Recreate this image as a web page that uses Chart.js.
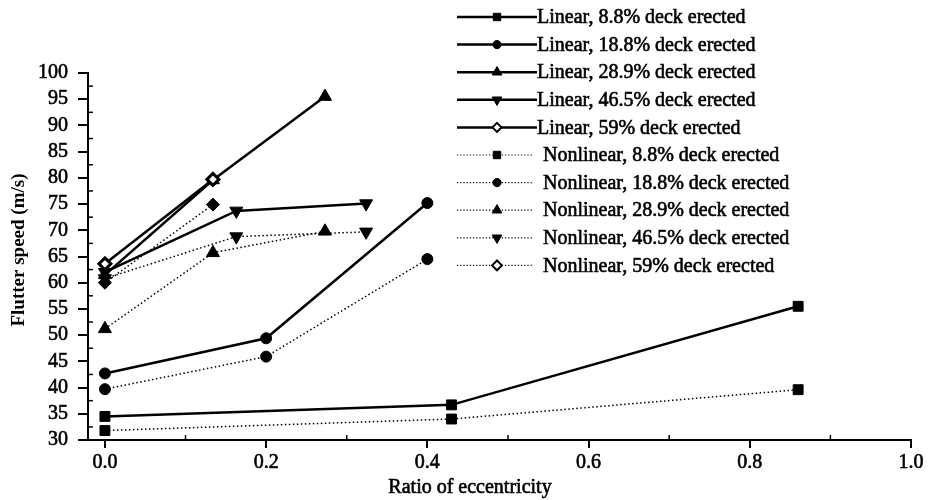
<!DOCTYPE html>
<html>
<head>
<meta charset="utf-8">
<script src="https://cdn.jsdelivr.net/npm/chart.js@4.4.0/dist/chart.umd.min.js"></script>
<style>
  html, body { margin: 0; padding: 0; background: #fff; }
  #wrap { position: relative; width: 934px; height: 500px; }
</style>
</head>
<body>
<div id="wrap"><canvas id="chart" width="934" height="500"></canvas></div>
<script>
// eccentricity ratios (x) per deck stage
const ecc8 = [0, 0.43, 0.86];
const ecc18 = [0, 0.2, 0.4];
const ecc28 = [0, 0.134, 0.273];
const ecc46 = [0, 0.163, 0.324];
const ecc59 = [0, 0.134];

// flutter speeds (m/s)
const linear8 = [34.5, 36.7, 55.5];
const nonlin8 = [31.8, 34.0, 39.6];
const linear18 = [42.7, 49.4, 75.2];
const nonlin18 = [39.7, 45.9, 64.5];
const linear28 = [61.5, 79.6, 95.5];
const nonlin28 = [51.2, 65.7, 69.8];
const linear46 = [62.0, 73.7, 75.1];
const nonlin46 = [60.8, 68.8, 69.7];
const linear59 = [63.6, 79.7];
const nonlin59 = [60.0, 74.9];

const xTicks = [0, 0.2, 0.4, 0.6, 0.8, 1.0];
const yTicks = [30, 35, 40, 45, 50, 55, 60, 65, 70, 75, 80, 85, 90, 95, 100];

const SERIF = '"Liberation Serif", "DejaVu Serif", serif';

function pts(xs, ys) {
  return xs.map((x, i) => ({ x: x, y: ys[i] }));
}

function series(label, xs, ys, marker, nonlinear) {
  return {
    label: label,
    data: pts(xs, ys),
    nonlinear: nonlinear,
    legendOpen: marker.legendOpen || marker.open,
    order: marker.open ? -1 : 0,
    borderColor: '#000',
    borderWidth: nonlinear ? 1.5 : 2.5,
    borderDash: nonlinear ? [1.5, 2.5] : [],
    pointStyle: marker.style,
    pointRotation: marker.rotation || 0,
    pointRadius: marker.radius,
    pointBorderWidth: marker.open ? 3 : 1,
    pointBorderColor: '#000',
    pointBackgroundColor: marker.open ? '#fff' : '#000',
    showLine: true,
    tension: 0
  };
}

const square = { style: 'rect', radius: 7 };
const circle = { style: 'circle', radius: 5.5 };
const triUp = { style: 'triangle', radius: 7.5 };
const triDown = { style: 'triangle', radius: 7.5, rotation: 180 };
const diamondOpen = { style: 'rectRot', radius: 6, open: true };
const diamondFill = { style: 'rectRot', radius: 6.5, legendOpen: true };

const datasets = [
  series('Linear, 8.8% deck erected', ecc8, linear8, square, false),
  series('Linear, 18.8% deck erected', ecc18, linear18, circle, false),
  series('Linear, 28.9% deck erected', ecc28, linear28, triUp, false),
  series('Linear, 46.5% deck erected', ecc46, linear46, triDown, false),
  series('Linear, 59% deck erected', ecc59, linear59, diamondOpen, false),
  series('Nonlinear, 8.8% deck erected', ecc8, nonlin8, square, true),
  series('Nonlinear, 18.8% deck erected', ecc18, nonlin18, circle, true),
  series('Nonlinear, 28.9% deck erected', ecc28, nonlin28, triUp, true),
  series('Nonlinear, 46.5% deck erected', ecc46, nonlin46, triDown, true),
  series('Nonlinear, 59% deck erected', ecc59, nonlin59, diamondFill, true)
];

// legend drawn over the plot, top right
const sideLegend = {
  id: 'sideLegend',
  afterDraw(chart) {
    const ctx = chart.ctx;
    chart.data.datasets.forEach((ds, i) => {
      const y = 17 + i * 27.6;
      ctx.save();
      ctx.strokeStyle = '#000';
      ctx.lineWidth = ds.nonlinear ? 1.2 : 2.5;
      ctx.setLineDash(ds.nonlinear ? [1.2, 2] : []);
      ctx.beginPath();
      ctx.moveTo(457, y);
      ctx.lineTo(ds.nonlinear ? 532 : 537, y);
      ctx.stroke();
      ctx.setLineDash([]);
      ctx.fillStyle = ds.legendOpen ? '#fff' : '#000';
      ctx.lineWidth = ds.legendOpen ? 2 : 1;
      Chart.helpers.drawPoint(ctx, {
        pointStyle: ds.pointStyle,
        rotation: ds.pointRotation,
        radius: ds.pointRadius * 0.75,
        borderWidth: ds.legendOpen ? 2 : 1
      }, 497, y);
      ctx.fillStyle = '#000';
      ctx.font = '20px ' + SERIF;
      ctx.textBaseline = 'middle';
      ctx.lineWidth = 0.6;
      const tx = ds.nonlinear ? 543 : 537;
      ctx.fillText(ds.label, tx, y + 1);
      ctx.strokeText(ds.label, tx, y + 1);
      ctx.restore();
    });
  }
};

// inward minor ticks and axis titles
const axisExtras = {
  id: 'axisExtras',
  afterDraw(chart) {
    const { ctx, chartArea: a, scales: { x, y } } = chart;
    ctx.save();
    ctx.strokeStyle = '#000';
    ctx.lineWidth = 1.5;
    for (let v = 32.5; v < 100; v += 5) {
      const py = y.getPixelForValue(v);
      ctx.beginPath();
      ctx.moveTo(a.left, py);
      ctx.lineTo(a.left + 5, py);
      ctx.stroke();
    }
    for (let v = 0.1; v < 1; v += 0.2) {
      const px = x.getPixelForValue(v);
      ctx.beginPath();
      ctx.moveTo(px, a.bottom);
      ctx.lineTo(px, a.bottom - 5);
      ctx.stroke();
    }
    ctx.fillStyle = '#000';
    ctx.textAlign = 'center';
    ctx.textBaseline = 'middle';
    ctx.lineWidth = 0.6;
    ctx.font = '20px ' + SERIF;
    ctx.fillText('Ratio of eccentricity', 470, 488);
    ctx.strokeText('Ratio of eccentricity', 470, 488);
    ctx.translate(19, 250);
    ctx.rotate(-Math.PI / 2);
    ctx.font = 'bold 19px ' + SERIF;
    ctx.fillText('Flutter speed (m/s)', 0, 0);
    ctx.restore();
  }
};

new Chart(document.getElementById('chart'), {
  type: 'scatter',
  data: { datasets: datasets },
  plugins: [sideLegend, axisExtras],
  options: {
    responsive: false,
    animation: false,
    devicePixelRatio: 1,
    layout: { padding: { top: 73, right: 23, left: 0, bottom: 0 } },
    plugins: {
      legend: { display: false },
      tooltip: { enabled: false }
    },
    scales: {
      x: {
        type: 'linear',
        min: -0.021,
        max: 1.0,
        afterBuildTicks: s => { s.ticks = xTicks.map(v => ({ value: v })); },
        afterFit: s => { s.height = 60; },
        grid: { display: true, drawOnChartArea: false, drawTicks: true, tickLength: 8, color: '#000', lineWidth: 2 },
        border: { display: true, color: '#000', width: 2 },
        ticks: {
          color: '#000',
          font: { family: SERIF, size: 20 },
          textStrokeColor: '#000',
          textStrokeWidth: 0.6,
          padding: 3,
          maxRotation: 0,
          autoSkip: false,
          callback: v => Number(v).toFixed(1)
        }
      },
      y: {
        type: 'linear',
        min: 30,
        max: 100,
        afterBuildTicks: s => { s.ticks = yTicks.map(v => ({ value: v })); },
        afterFit: s => { s.width = 88; },
        grid: { display: true, drawOnChartArea: false, drawTicks: true, tickLength: 10, color: '#000', lineWidth: 2 },
        border: { display: true, color: '#000', width: 2 },
        ticks: {
          color: '#000',
          font: { family: SERIF, size: 20 },
          textStrokeColor: '#000',
          textStrokeWidth: 0.6,
          padding: 10,
          autoSkip: false
        }
      }
    }
  }
});
</script>
</body>
</html>
